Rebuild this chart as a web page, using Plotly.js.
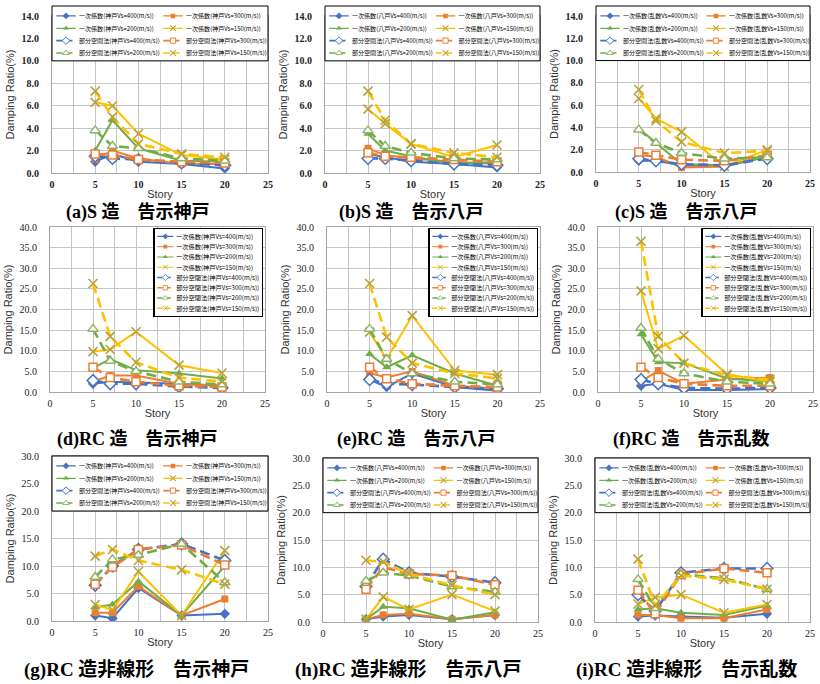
<!DOCTYPE html>
<html>
<head>
<meta charset="utf-8">
<script src="https://cdn.plot.ly/plotly-3.0.1.min.js"></script>
<style>
html, body { margin: 0; padding: 0; background: #ffffff; }
#chart { width: 820px; height: 684px; }
</style>
</head>
<body>
<div id="chart"></div>
<script>
// ---------------- DATA ----------------
const stories = [5, 7, 10, 15, 20];
const vsValues = ['400', '300', '200', '150'];
const panelTitles = [
  '(a)S 造　告示神戸', '(b)S 造　告示八戸', '(c)S 造　告示八戸',
  '(d)RC 造　告示神戸', '(e)RC 造　告示八戸', '(f)RC 造　告示乱数',
  '(g)RC 造非線形　告示神戸', '(h)RC 造非線形　告示八戸', '(i)RC 造非線形　告示乱数'
];
const panelSites = ['神戸', '八戸', '乱数', '神戸', '八戸', '乱数', '神戸', '八戸', '乱数'];
const primaryMethod = '一次係数';
const subspaceMethod = '部分空間法';
const xAxisTitle = 'Story';
const yAxisTitle = 'Damping Ratio(%)';

// rows: Vs=400, 300, 200, 150 ; columns: stories
const a_primary = [
  [1.0, 1.7, 1.0, 0.8, 0.4],
  [1.2, 2.0, 1.3, 0.8, 0.8],
  [2.0, 4.7, 2.2, 1.1, 1.0],
  [6.3, 6.0, 3.5, 1.6, 1.2]
];
const a_subspace = [
  [1.5, 1.3, 1.2, 0.9, 0.7],
  [1.7, 1.6, 1.2, 1.0, 0.9],
  [3.8, 2.4, 2.2, 1.3, 1.1],
  [7.3, 5.0, 2.6, 1.7, 1.4]
];
const b_primary = [
  [1.7, 1.4, 1.0, 0.8, 0.5],
  [2.2, 1.6, 1.3, 1.0, 0.8],
  [3.5, 2.0, 1.5, 0.8, 1.0],
  [5.7, 4.4, 2.6, 1.4, 2.5]
];
const b_subspace = [
  [1.3, 1.3, 1.1, 0.8, 0.7],
  [1.8, 1.5, 1.4, 1.2, 1.0],
  [3.8, 2.4, 1.8, 1.3, 1.2],
  [7.3, 4.7, 2.6, 1.8, 1.4]
];
const c_primary = [
  [1.0, 1.0, 0.6, 0.5, 1.4],
  [1.5, 1.4, 0.4, 0.5, 1.5],
  [3.9, 2.6, 0.7, 0.6, 1.3],
  [6.6, 4.8, 3.6, 0.5, 2.0]
];
const c_subspace = [
  [1.2, 1.0, 0.7, 0.6, 1.2],
  [1.8, 1.5, 1.1, 1.0, 1.5],
  [3.8, 2.6, 1.7, 1.2, 1.3],
  [7.4, 4.6, 2.7, 1.7, 1.9]
];
const d_primary = [
  [2.0, 2.5, 2.3, 2.0, 1.5],
  [2.5, 4.0, 4.0, 2.0, 1.5],
  [5.8, 8.0, 5.3, 4.5, 3.3],
  [9.8, 10.3, 14.6, 6.5, 4.6]
];
const d_subspace = [
  [2.8, 2.0, 2.0, 1.3, 1.0],
  [6.0, 3.5, 2.5, 1.5, 1.2],
  [15.3, 7.5, 5.0, 2.5, 1.8],
  [26.3, 13.5, 7.2, 3.5, 2.5]
];
const e_primary = [
  [3.0, 1.2, 4.5, 1.2, 0.3],
  [4.6, 3.5, 5.0, 1.5, 0.8],
  [9.2, 6.0, 8.9, 4.5, 1.5],
  [14.5, 8.0, 18.5, 5.2, 4.2]
];
const e_subspace = [
  [3.0, 2.0, 1.8, 1.2, 0.8],
  [6.0, 3.2, 2.0, 1.5, 1.2],
  [15.3, 8.0, 4.5, 2.5, 1.8],
  [26.3, 13.3, 7.0, 4.5, 3.3]
];
const f_primary = [
  [1.5, 2.0, 0.5, 0.5, 0.7],
  [2.5, 5.2, 2.0, 3.0, 3.5],
  [14.0, 7.2, 7.0, 3.3, 2.5],
  [24.5, 10.5, 13.7, 4.3, 2.5]
];
const f_subspace = [
  [3.0, 2.0, 1.0, 0.8, 1.0],
  [6.0, 3.5, 2.0, 1.5, 1.5],
  [15.5, 8.0, 4.5, 2.5, 2.0],
  [36.5, 13.5, 7.0, 4.0, 3.0]
];
const g_primary = [
  [1.0, 0.5, 6.0, 1.0, 1.3],
  [1.5, 1.5, 6.3, 1.0, 4.0],
  [2.5, 3.0, 7.2, 1.0, 10.0],
  [3.0, 2.0, 9.0, 1.0, 12.8]
];
const g_subspace = [
  [6.5, 10.0, 13.0, 14.0, 11.0],
  [6.7, 9.8, 13.0, 13.8, 10.2],
  [8.0, 11.2, 12.0, 14.0, 7.0],
  [11.8, 13.0, 11.0, 9.3, 6.7]
];
const h_primary = [
  [0.5, 1.0, 1.3, 0.5, 1.3],
  [0.5, 1.3, 1.5, 0.5, 1.3],
  [0.5, 2.8, 2.5, 0.4, 1.8],
  [0.5, 4.6, 2.3, 5.0, 2.0]
];
const h_subspace = [
  [6.5, 11.5, 9.0, 8.3, 7.2],
  [6.0, 10.0, 8.8, 8.5, 6.8],
  [7.5, 9.0, 8.5, 6.5, 5.5],
  [11.3, 11.0, 8.8, 6.7, 5.0]
];
const i_primary = [
  [1.0, 1.2, 1.0, 0.8, 1.5],
  [1.3, 1.3, 0.7, 0.7, 2.3],
  [2.3, 2.5, 1.7, 1.3, 3.0],
  [3.3, 4.5, 5.0, 1.7, 3.2]
];
const i_subspace = [
  [5.0, 2.0, 9.0, 9.8, 9.8],
  [5.8, 1.5, 8.7, 9.8, 9.0],
  [7.8, 2.5, 8.7, 8.0, 6.0],
  [11.5, 3.0, 8.5, 7.8, 6.0]
];

const panelPrimary = [a_primary, b_primary, c_primary, d_primary, e_primary, f_primary, g_primary, h_primary, i_primary];
const panelSubspace = [a_subspace, b_subspace, c_subspace, d_subspace, e_subspace, f_subspace, g_subspace, h_subspace, i_subspace];

// ---------------- LAYOUT GEOMETRY (pixels) ----------------
const W = 820, H = 684;
const panelBoxes = [
  {l: 52, r: 268, t: 16, b: 173}, {l: 325, r: 540, t: 16, b: 173}, {l: 596, r: 810, t: 16, b: 172},
  {l: 50, r: 265, t: 227, b: 392}, {l: 327, r: 540, t: 227, b: 392}, {l: 598, r: 813, t: 227, b: 392},
  {l: 52, r: 268, t: 456, b: 621}, {l: 323, r: 538, t: 458, b: 622}, {l: 595, r: 810, t: 458, b: 622}
];
const yMax = [14, 14, 14, 40, 40, 40, 30, 30, 30];
const yStep = [2, 2, 2, 5, 5, 5, 5, 5, 5];
const titlePos = [
  {x: 138, y: 213}, {x: 411, y: 213}, {x: 686, y: 213},
  {x: 137, y: 439}, {x: 416, y: 439}, {x: 691, y: 439},
  {x: 136, y: 670}, {x: 408, y: 670}, {x: 686, y: 670}
];
const titleSizes = [18, 18, 18, 18, 18, 18, 19, 19, 19];

const colors = ['#4472C4', '#ED7D31', '#70AD47', '#FFC000'];
const xMarkColor = '#B9A23A';
const symbols = ['diamond', 'square', 'triangle-up', 'x-thin-open'];
const markerSizes = [8, 7, 8, 9];
const gridColor = '#C4C4C4';

const traces = [];
const layout = {
  width: W, height: H,
  margin: {l: 0, r: 0, t: 0, b: 0, autoexpand: false},
  paper_bgcolor: '#ffffff', plot_bgcolor: '#ffffff',
  showlegend: true,
  annotations: [], shapes: []
};

const legendPlan = [];
let legendCounter = 0;
function newLegendId() {
  legendCounter += 1;
  return legendCounter === 1 ? 'legend' : 'legend' + legendCounter;
}

for (let p = 0; p < 9; p++) {
  const box = panelBoxes[p];
  const row = Math.floor(p / 3);
  const sfx = p === 0 ? '' : String(p + 1);
  const xId = 'x' + sfx, yId = 'y' + sfx;

  let legIds;
  if (row === 1) {
    const id = newLegendId();
    legIds = [id];
    legendPlan.push({id: id, right: box.r - 3, top: box.t + 0.5, s: 0.54, anchorRight: true});
    layout[id] = {
      x: (box.r - 3) / W, y: 1 - box.t / H, xanchor: 'right', yanchor: 'top',
      orientation: 'v', bgcolor: '#ffffff', bordercolor: '#000000', borderwidth: 2,
      font: {family: '"Noto Sans CJK JP", sans-serif', size: 11.5, color: '#000000'},
      itemwidth: 30, tracegroupgap: 0
    };
  } else {
    const idL = newLegendId(), idR = newLegendId();
    legIds = [idL, idR];
    const top = row === 0 ? box.t - 10 : box.t;
    const half = (box.r - box.l) / 2;
    legendPlan.push({id: idL, left: box.l + 1, top: top + 0.5, s: 0.65});
    legendPlan.push({id: idR, left: box.l + half, top: top + 0.5, s: 0.65});
    [idL, idR].forEach((id, k) => {
      layout[id] = {
        x: (box.l + 1 + k * half) / W, y: 1 - top / H, xanchor: 'left', yanchor: 'top',
        orientation: 'v', bgcolor: 'rgba(0,0,0,0)', borderwidth: 0,
        font: {family: '"Noto Sans CJK JP", sans-serif', size: 9.3, color: '#000000'},
        itemwidth: 30, tracegroupgap: 0
      };
    });
    const legendBottom = row === 0 ? 10 / yMax[p] : 20 / yMax[p];
    const legendTop = 1 + (box.t - top) / (box.b - box.t);
    layout.shapes.push({
      type: 'rect', xref: xId + ' domain', yref: yId + ' domain',
      x0: 0, x1: 1, y0: legendBottom, y1: legendTop,
      fillcolor: '#ffffff', line: {color: '#000000', width: 1}, layer: 'above'
    });
  }

  const methods = [
    {name: primaryMethod, data: panelPrimary[p], open: false},
    {name: subspaceMethod, data: panelSubspace[p], open: true}
  ];
  methods.forEach(m => {
    for (let v = 0; v < 4; v++) {
      const legendId = row === 1 ? legIds[0] : legIds[v % 2];
      const isX = v === 3;
      const marker = isX
        ? {symbol: 'x-thin-open', size: 9, color: xMarkColor, line: {width: 1.6, color: xMarkColor}}
        : (m.open
          ? {symbol: symbols[v], size: markerSizes[v] + 1, color: '#ffffff', line: {width: 1.5, color: v === 2 ? '#8DB56A' : colors[v]}}
          : {symbol: symbols[v], size: markerSizes[v], color: colors[v], line: {width: 0}});
      traces.push({
        type: 'scatter', mode: 'lines+markers',
        x: stories, y: m.data[v],
        xaxis: xId, yaxis: yId,
        name: m.name + '(' + panelSites[p] + 'Vs=' + vsValues[v] + '(m/s))',
        legend: legendId,
        line: {color: colors[v], width: m.open ? 2.6 : 2, dash: m.open ? '10px,5px' : 'solid'},
        marker: marker,
        hoverinfo: 'skip'
      });
    }
  });

  const tickFont = row === 0
    ? {family: '"Liberation Serif", serif', size: 10, color: '#222222', weight: 'bold'}
    : {family: '"Liberation Serif", serif', size: 10, color: '#222222'};

  layout['xaxis' + sfx] = {
    domain: [box.l / W, box.r / W], anchor: yId,
    range: [0, 25], tick0: 0, dtick: 5, ticks: '',
    showgrid: true, gridcolor: gridColor, gridwidth: 1,
    minor: {dtick: 2.5, tick0: 0, showgrid: true, gridcolor: gridColor, gridwidth: 1, ticks: ''},
    showline: true, linecolor: '#A6A6A6', linewidth: 1, mirror: true, zeroline: false,
    tickfont: tickFont, ticklabelstandoff: 2,
    title: {text: xAxisTitle, font: {family: '"Liberation Sans", Arial, sans-serif', size: 11, color: '#333333'}, standoff: 1},
    fixedrange: true
  };
  layout['yaxis' + sfx] = {
    domain: [1 - box.b / H, 1 - box.t / H], anchor: xId,
    range: [0, yMax[p]], tick0: 0, dtick: yStep[p], ticks: '', tickformat: '.1f',
    showgrid: true, gridcolor: gridColor, gridwidth: 1,
    showline: true, linecolor: '#A6A6A6', linewidth: 1, mirror: true, zeroline: false,
    tickfont: tickFont, ticklabelstandoff: 10,
    title: {text: yAxisTitle, font: {family: '"Liberation Sans", Arial, sans-serif', size: 11, color: '#333333'}, standoff: 4},
    fixedrange: true
  };

  layout.annotations.push({
    xref: 'paper', yref: 'paper', x: titlePos[p].x / W, y: 1 - titlePos[p].y / H,
    xanchor: 'center', yanchor: 'middle', showarrow: false,
    text: panelTitles[p],
    font: {family: '"Liberation Serif", "Noto Sans CJK JP", serif', size: titleSizes[p], color: '#000000', weight: 'bold'}
  });
}

Plotly.newPlot('chart', traces, layout, {staticPlot: true, displayModeBar: false}).then(gd => {
  legendPlan.forEach(spec => {
    const g = gd.querySelector('g.' + spec.id);
    if (!g) return;
    let tx = spec.left;
    if (spec.anchorRight) {
      const bg = g.querySelector('rect.bg');
      const w = bg ? parseFloat(bg.getAttribute('width')) : 200;
      tx = spec.right - w * spec.s;
    }
    g.setAttribute('transform', 'translate(' + tx + ',' + spec.top + ') scale(' + spec.s + ')');
  });
});
</script>
</body>
</html>
